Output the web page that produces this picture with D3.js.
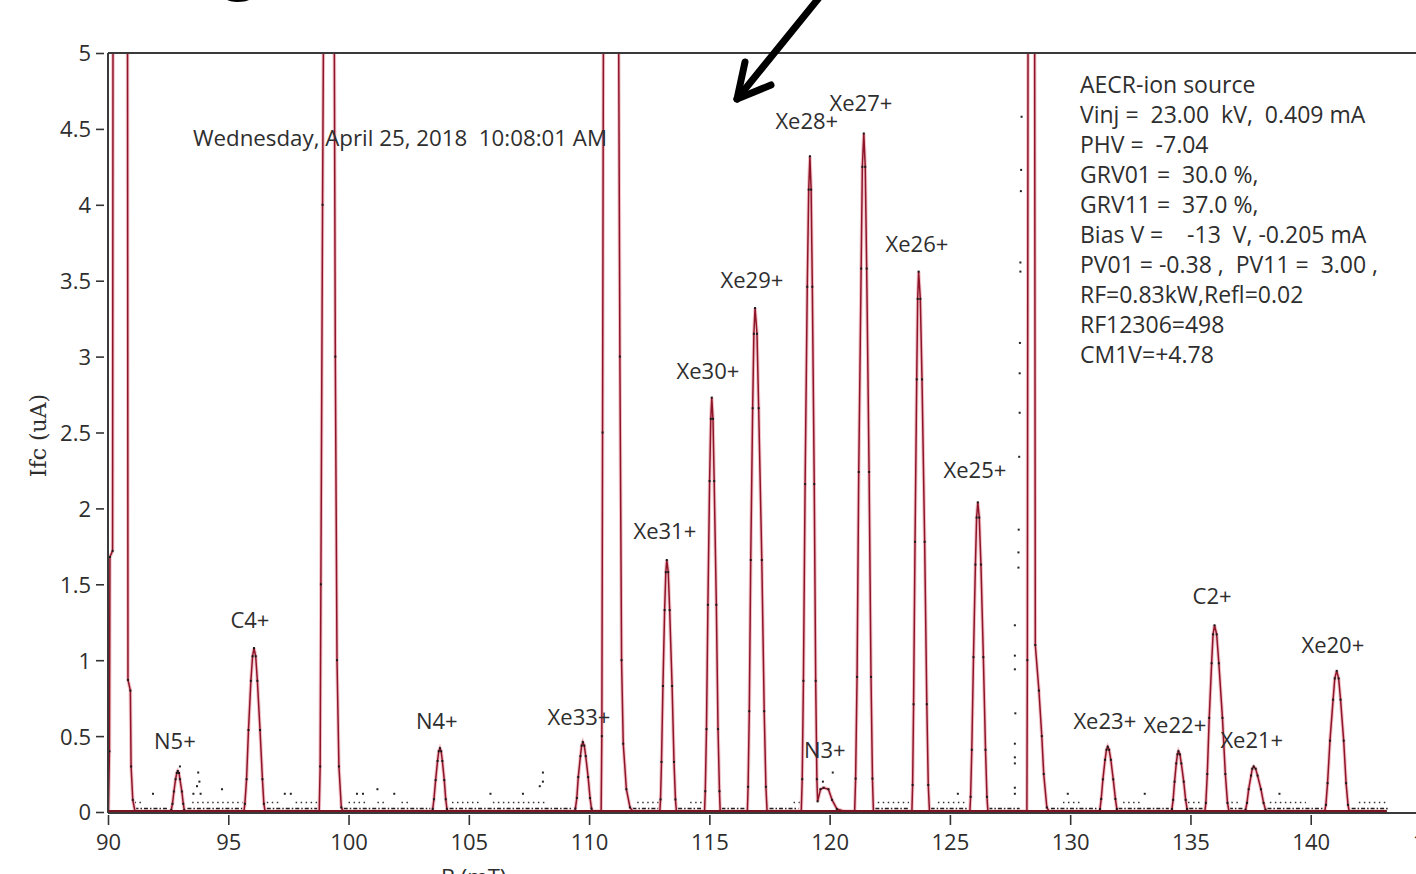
<!DOCTYPE html>
<html>
<head>
<meta charset="utf-8">
<script src="https://cdn.jsdelivr.net/npm/d3@7"></script>
<style>
  body { margin: 0; background: #fff; }
  svg { display: block; font-family: "Open Sans", sans-serif; }
  .axis path { display: none; }
  .axis line { stroke: #333; stroke-width: 1.6; }
  .axis text { fill: #2e2e2e; font-size: 22px; font-family: "Open Sans", sans-serif; }
  .peakLabel { fill: #2e2e2e; font-size: 22px; text-anchor: middle; }
  .info { fill: #2e2e2e; font-size: 23px; white-space: pre; }
</style>
</head>
<body>
<div id="chart"></div>
<script>
// x ticks (B in mT) and y ticks (Ifc in uA)
var xTicks = [90, 95, 100, 105, 110, 115, 120, 125, 130, 135, 140, 145]
var yTicks = [0, 0.5, 1, 1.5, 2, 2.5, 3, 3.5, 4, 4.5, 5]

// spectrum: [B (mT), Ifc (uA)]
var spectrum = [
  [90.02,0.005],[90.06,0.4],[90.08,1.68],[90.19,1.72],[90.21,5.5],[90.45,8],[90.81,5.5],[90.83,0.87],[90.93,0.8],[90.96,0.3],[91.03,0.08],[91.12,0.005],
  [92.6,0.005],[92.63,0.014],[92.68,0.054],[92.74,0.135],[92.81,0.216],[92.86,0.257],[92.9,0.27],[92.95,0.257],[92.99,0.216],[93.07,0.135],[93.13,0.054],[93.17,0.014],[93.2,0.005],
  [95.65,0.005],[95.69,0.054],[95.76,0.216],[95.84,0.54],[95.94,0.864],[96.01,1.026],[96.07,1.08],[96.14,1.026],[96.21,0.864],[96.32,0.54],[96.42,0.216],[96.48,0.054],[96.53,0.005],
  [98.78,0.005],[98.82,0.3],[98.85,1.5],[98.92,4.0],[98.97,5.5],[99.2,8],[99.4,5.5],[99.45,3.0],[99.52,1.0],[99.6,0.3],[99.7,0.03],[99.78,0.005],
  [103.47,0.005],[103.5,0.021],[103.55,0.084],[103.62,0.21],[103.7,0.336],[103.75,0.4],[103.8,0.42],[103.85,0.4],[103.9,0.336],[103.98,0.21],[104.04,0.084],[104.09,0.021],[104.12,0.005],
  [109.4,0.005],[109.43,0.023],[109.49,0.092],[109.55,0.23],[109.64,0.368],[109.69,0.437],[109.74,0.46],[109.8,0.437],[109.86,0.368],[109.96,0.23],[110.04,0.092],[110.1,0.023],[110.14,0.005],
  [110.5,0.005],[110.53,0.5],[110.56,2.5],[110.6,5.5],[110.9,8],[111.22,5.5],[111.28,3.0],[111.35,1.0],[111.42,0.45],[111.55,0.15],[111.7,0.03],[111.82,0.005],
  [112.94,0.005],[112.97,0.083],[113.01,0.33],[113.07,0.83],[113.14,1.33],[113.19,1.58],[113.23,1.66],[113.29,1.58],[113.35,1.33],[113.45,0.83],[113.53,0.33],[113.59,0.083],[113.63,0.005],
  [114.8,0.005],[114.83,0.137],[114.88,0.546],[114.94,1.365],[115.01,2.18],[115.06,2.59],[115.1,2.73],[115.15,2.59],[115.2,2.18],[115.29,1.365],[115.36,0.546],[115.42,0.137],[115.45,0.005],
  [116.58,0.005],[116.61,0.166],[116.66,0.664],[116.72,1.66],[116.8,2.66],[116.85,3.15],[116.9,3.32],[116.98,3.15],[117.05,2.66],[117.18,1.66],[117.28,0.664],[117.35,0.166],[117.4,0.005],
  [118.82,0.005],[118.86,0.216],[118.91,0.864],[118.98,2.16],[119.07,3.46],[119.13,4.1],[119.18,4.32],[119.23,4.1],[119.28,3.46],[119.36,2.16],[119.42,0.864],[119.47,0.216],[119.5,0.07],
  [119.62,0.15],[119.75,0.16],[119.95,0.15],[120.1,0.08],[120.3,0.02],[120.6,0.005],
  [121.04,0.005],[121.08,0.22],[121.14,0.89],[121.21,2.24],[121.31,3.58],[121.36,4.25],[121.42,4.47],[121.48,4.25],[121.54,3.58],[121.64,2.24],[121.72,0.89],[121.78,0.22],[121.82,0.005],
  [123.42,0.005],[123.45,0.178],[123.49,0.71],[123.55,1.78],[123.62,2.85],[123.66,3.38],[123.7,3.56],[123.77,3.38],[123.84,2.85],[123.95,1.78],[124.04,0.71],[124.1,0.178],[124.15,0.005],
  [125.83,0.005],[125.86,0.1],[125.91,0.41],[125.98,1.02],[126.06,1.63],[126.11,1.94],[126.16,2.04],[126.22,1.94],[126.29,1.63],[126.39,1.02],[126.48,0.41],[126.54,0.1],[126.58,0.005],
  [128.2,0.005],[128.22,1.0],[128.25,5.5],[128.38,8],[128.52,5.5],[128.55,1.1],[128.7,0.8],[128.82,0.5],[128.9,0.25],[129.03,0.03],[129.12,0.005],
  [131.2,0.005],[131.24,0.02],[131.29,0.086],[131.36,0.215],[131.45,0.344],[131.51,0.41],[131.56,0.43],[131.62,0.41],[131.69,0.344],[131.79,0.215],[131.88,0.086],[131.94,0.02],[131.98,0.005],
  [134.2,0.005],[134.23,0.02],[134.28,0.08],[134.34,0.2],[134.41,0.32],[134.46,0.38],[134.5,0.4],[134.56,0.38],[134.62,0.32],[134.72,0.2],[134.8,0.08],[134.86,0.02],[134.9,0.005],
  [135.6,0.005],[135.64,0.06],[135.7,0.25],[135.78,0.62],[135.88,0.98],[135.94,1.17],[136.0,1.23],[136.09,1.17],[136.18,0.98],[136.33,0.62],[136.45,0.25],[136.54,0.06],[136.6,0.005],
  [137.25,0.005],[137.29,0.015],[137.35,0.06],[137.42,0.15],[137.52,0.24],[137.57,0.285],[137.63,0.3],[137.71,0.285],[137.79,0.24],[137.93,0.15],[138.04,0.06],[138.12,0.015],[138.17,0.005],
  [140.58,0.005],[140.63,0.047],[140.7,0.19],[140.8,0.47],[140.93,0.74],[141.0,0.88],[141.08,0.93],[141.16,0.88],[141.24,0.74],[141.37,0.47],[141.47,0.19],[141.55,0.047],[141.6,0.005],
  [143.16,0.005]
]

// peak names and where their labels sit (B, Ifc)
var peakLabels = ["N5+", "C4+", "N4+", "Xe33+", "Xe31+", "Xe30+", "Xe29+", "Xe28+", "Xe27+", "N3+", "Xe26+", "Xe25+", "Xe23+", "Xe22+", "C2+", "Xe21+", "Xe20+"]
var peakLabelB = [92.78, 95.9, 103.67, 109.58, 113.15, 114.94, 116.77, 119.05, 121.3, 119.8, 123.63, 126.04, 131.44, 134.35, 135.9, 137.55, 140.92]
var peakLabelI = [0.415, 1.21, 0.55, 0.57, 1.8, 2.85, 3.45, 4.5, 4.62, 0.357, 3.69, 2.2, 0.55, 0.52, 1.37, 0.42, 1.05]

// dotted noise rows near the baseline: [from B, to B]
var noiseRowLow = [[91.1,92.5],[93.3,95.6],[96.6,98.7],[99.8,103.4],[104.2,109.3],[111.8,112.9],[113.7,114.7],[115.5,116.5],[117.5,118.7],
  [121.9,123.3],[124.2,125.7],[126.6,127.9],[129.2,131.1],[132.0,134.1],[134.95,135.5],[136.6,137.2],[138.2,140.5],[141.7,143.2]]
var noiseRowHigh = [[91.1,91.5],[93.5,95.6],[96.6,97.2],[97.8,98.7],[100.0,100.8],[101.2,101.6],[102.2,102.6],[104.3,105.5],[106,108.2],
  [112,112.9],[114.2,114.7],[118.5,118.8],[122,123.3],[124.5,125.7],[129.7,130.5],[132.2,133],[134.9,135.4],[136.7,137],[138.3,139.8],[142,143.2]]

// stray points of the scan
var strayB = [127.98,127.96,127.95,127.93,127.93,127.91,127.9,127.9,127.88,127.86,127.85,127.85,127.7,127.7,127.7,127.72,127.7,127.7,127.7,127.7,127.7,
  91.87,92.99,93.75,93.8,93.7,93.85,93.55,94.74,97.35,97.6,100.35,100.6,101.2,101.9,105.9,108.08,108.08,107.95,107.25,120.13,119.72,125.33,129.9,133.1,138.7]
var strayI = [4.58,4.23,4.09,3.62,3.56,3.09,2.89,2.63,2.34,1.86,1.71,1.61,1.23,1.03,0.94,0.65,0.45,0.36,0.32,0.16,0.12,
  0.12,0.30,0.26,0.2,0.17,0.12,0.12,0.15,0.12,0.12,0.12,0.12,0.15,0.12,0.12,0.26,0.2,0.17,0.12,0.26,0.2,0.12,0.12,0.12,0.12]

var dateStamp = "Wednesday, April 25, 2018  10:08:01 AM"
var infoLines = [
  "AECR-ion source",
  "Vinj =  23.00  kV,  0.409 mA",
  "PHV =  -7.04",
  "GRV01 =  30.0 %,",
  "GRV11 =  37.0 %,",
  "Bias V =    -13  V, -0.205 mA",
  "PV01 = -0.38 ,  PV11 =  3.00 ,",
  "RF=0.83kW,Refl=0.02",
  "RF12306=498",
  "CM1V=+4.78"
]

;(function() {
  var widthSvg = 1416
  var heightSvg = 874
  var plotLeft = 108
  var plotTop = 53
  var plotBottom = 812

  var svg = d3.select("#chart").append("svg")
    .attr("width", widthSvg)
    .attr("height", heightSvg)

  var x = d3.scaleLinear().domain([90, 145]).range([plotLeft, 1431])
  var y = d3.scaleLinear().domain([0, 5]).range([plotBottom, plotTop])

  svg.append("defs").append("clipPath")
    .attr("id", "plotClip")
    .append("rect")
    .attr("x", plotLeft)
    .attr("y", plotTop)
    .attr("width", widthSvg - plotLeft)
    .attr("height", plotBottom - plotTop)

  generateAxes()
  generateNoise()
  generateSpectrum()
  generateFrame()
  generateLabels()
  generateText()
  generateArrow()

  function generateAxes() {
    var xAxis = d3.axisBottom(x).tickValues(xTicks).tickSize(10).tickFormat(d3.format("d"))
    var gx = svg.append("g")
      .attr("class", "axis x-axis")
      .attr("transform", "translate(0," + plotBottom + ")")
      .call(xAxis)
    gx.selectAll(".tick line").attr("y1", 3).attr("y2", 13)
    gx.selectAll(".tick text").attr("y", 22)

    var yAxis = d3.axisLeft(y).tickValues(yTicks).tickSize(8).tickFormat(function(d) { return String(d) })
    var gy = svg.append("g")
      .attr("class", "axis y-axis")
      .attr("transform", "translate(" + plotLeft + ",0)")
      .call(yAxis)
    gy.selectAll(".tick line").attr("x1", -12).attr("x2", -4)
    gy.selectAll(".tick text").attr("x", -17).attr("dy", "0.36em")

    svg.append("text")
      .attr("transform", "translate(38," + (y(2.5) + 3) + ") rotate(-90)")
      .attr("text-anchor", "middle")
      .attr("dy", "0.35em")
      .style("font-family", "'DejaVu Serif', serif")
      .style("font-size", "22px")
      .style("fill", "#2e2e2e")
      .text("Ifc (uA)")

    svg.append("text")
      .attr("x", x(105.2))
      .attr("y", 885)
      .attr("text-anchor", "middle")
      .style("font-size", "22px")
      .style("fill", "#2e2e2e")
      .text("B (mT)")
  }

  function generateNoise() {
    var g = svg.append("g").attr("clip-path", "url(#plotClip)")
    g.selectAll(".noiseLow")
      .data(noiseRowLow)
      .enter().append("line")
      .attr("class", "noiseLow")
      .attr("x1", function(d) { return x(d[0]) })
      .attr("x2", function(d) { return x(d[1]) })
      .attr("y1", y(0.022))
      .attr("y2", y(0.022))
      .attr("stroke", "#222")
      .attr("stroke-width", 1.6)
      .attr("stroke-dasharray", "4,2,1.5,2")
    g.selectAll(".noiseHigh")
      .data(noiseRowHigh)
      .enter().append("line")
      .attr("class", "noiseHigh")
      .attr("x1", function(d) { return x(d[0]) })
      .attr("x2", function(d) { return x(d[1]) })
      .attr("y1", y(0.062))
      .attr("y2", y(0.062))
      .attr("stroke", "#333")
      .attr("stroke-width", 1.5)
      .attr("stroke-dasharray", "1.5,3.5")
    g.selectAll(".stray")
      .data(strayB)
      .enter().append("rect")
      .attr("class", "stray")
      .attr("x", function(d) { return x(d) - 1 })
      .attr("y", function(d, i) { return y(strayI[i]) - 1 })
      .attr("width", 2)
      .attr("height", 2)
      .attr("fill", "#222")
  }

  function generateSpectrum() {
    var g = svg.append("g").attr("clip-path", "url(#plotClip)")
    var line = d3.line()
      .x(function(d) { return x(d[0]) })
      .y(function(d) { return y(d[1]) })

    g.append("path")
      .datum(spectrum)
      .attr("d", line)
      .attr("fill", "none")
      .attr("stroke", "#f2c4cb")
      .attr("stroke-width", 3.6)
    g.append("path")
      .datum(spectrum)
      .attr("d", line)
      .attr("fill", "none")
      .attr("stroke", "#8e1428")
      .attr("stroke-width", 1.5)

    g.selectAll(".specDot")
      .data(spectrum.filter(function(d) { return d[1] < 5 && d[1] > 0.01 }))
      .enter().append("rect")
      .attr("class", "specDot")
      .attr("x", function(d) { return x(d[0]) - 1 })
      .attr("y", function(d) { return y(d[1]) - 1 })
      .attr("width", 2)
      .attr("height", 2)
      .attr("fill", "#1a1a1a")
  }

  function generateFrame() {
    svg.append("line")
      .attr("x1", plotLeft).attr("x2", widthSvg)
      .attr("y1", plotTop).attr("y2", plotTop)
      .attr("stroke", "#3a3a3a").attr("stroke-width", 2)
    svg.append("line")
      .attr("x1", plotLeft).attr("x2", plotLeft)
      .attr("y1", plotTop).attr("y2", plotBottom + 1)
      .attr("stroke", "#3a3a3a").attr("stroke-width", 2)
    svg.append("line")
      .attr("x1", plotLeft).attr("x2", widthSvg)
      .attr("y1", plotBottom + 1).attr("y2", plotBottom + 1)
      .attr("stroke", "#3a3a3a").attr("stroke-width", 2)
    svg.append("line")
      .attr("x1", x(90.02)).attr("x2", x(143.16))
      .attr("y1", plotBottom - 1).attr("y2", plotBottom - 1)
      .attr("stroke", "#7a1322").attr("stroke-width", 2)
  }

  function generateLabels() {
    svg.selectAll(".peakLabel")
      .data(peakLabels)
      .enter().append("text")
      .attr("class", "peakLabel")
      .attr("x", function(d, i) { return x(peakLabelB[i]) })
      .attr("y", function(d, i) { return y(peakLabelI[i]) })
      .text(function(d) { return d })
  }

  function generateText() {
    svg.append("text")
      .attr("class", "info")
      .attr("x", x(93.53))
      .attr("y", 146)
      .style("font-size", "22.3px")
      .text(dateStamp)

    svg.selectAll(".infoLine")
      .data(infoLines)
      .enter().append("text")
      .attr("class", "info infoLine")
      .attr("x", 1080)
      .attr("y", function(d, i) { return 93 + i * 30 })
      .text(function(d) { return d })
  }

  function generateArrow() {
    var g = svg.append("g")
      .attr("stroke", "#000")
      .attr("stroke-width", 7)
      .attr("stroke-linecap", "round")
      .attr("fill", "none")
    g.append("path").attr("d", "M737,99 L835,-22")
    g.append("path").attr("d", "M745,62 L737,99 L771,85")
      .attr("stroke-linejoin", "round")

    svg.append("text")
      .attr("x", 222)
      .attr("y", -14)
      .style("font-size", "64px")
      .style("font-weight", "bold")
      .style("fill", "#000")
      .text("g")
  }
})();
</script>
</body>
</html>
